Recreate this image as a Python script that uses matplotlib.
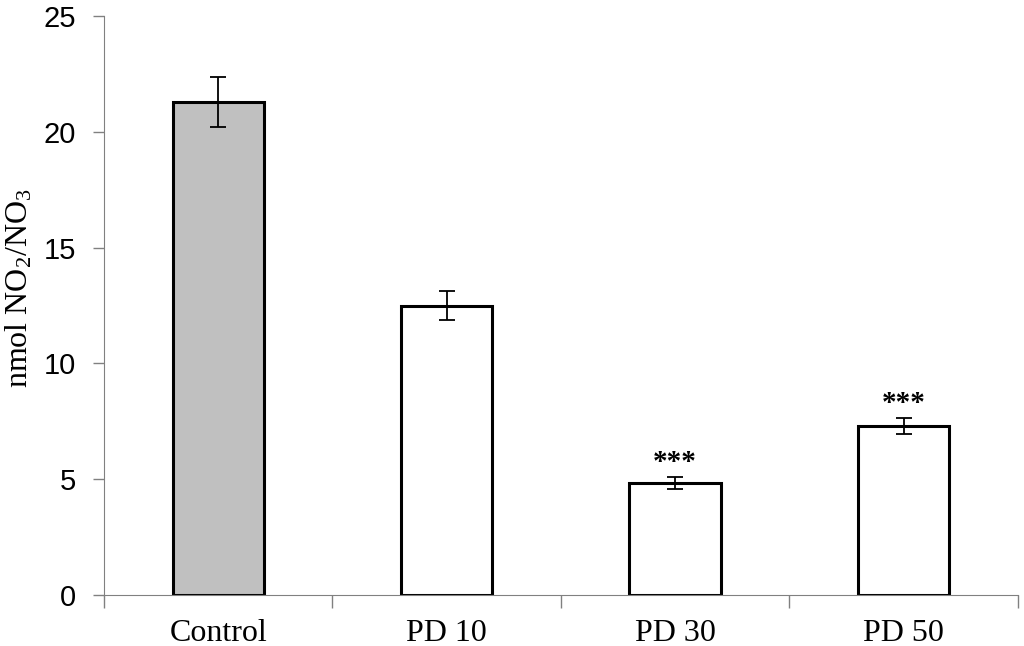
import matplotlib
matplotlib.use("Agg")
import matplotlib.pyplot as plt
import numpy as np

plt.rcParams["mathtext.fontset"] = "custom"
plt.rcParams["mathtext.rm"] = "Liberation Serif"
plt.rcParams["mathtext.it"] = "Liberation Serif:italic"

# values
groups = ["Control", "PD 10", "PD 30", "PD 50"]
means = [21.3, 12.5, 4.83, 7.3]
errors = [1.08, 0.62, 0.27, 0.35]
stars = ["", "", "***", "***"]
fills = ["#c0c0c0", "white", "white", "white"]

fig = plt.figure(figsize=(10.24, 6.46), dpi=100)
ax = fig.add_axes([0.1016, 0.079, 0.8924, 0.896])

x = np.arange(len(groups))
ax.bar(x, means, width=0.4, color=fills, edgecolor="black", linewidth=2.2, zorder=2)
ax.errorbar(x, means, yerr=errors, fmt="none", ecolor="black",
            elinewidth=1.3, capsize=6, capthick=1.3, zorder=3)

for xi, m, e, s in zip(x, means, errors, stars):
    if s:
        ax.text(xi, m + e + 0.05, s, ha="center", va="bottom",
                fontsize=21, fontweight="bold", family="Liberation Serif")

ax.set_xlim(-0.5, 3.5)
ax.set_ylim(0, 25)
ax.set_yticks([0, 5, 10, 15, 20, 25])

# category labels centred, ticks at the boundaries
ax.set_xticks(x)
ax.set_xticklabels(groups, family="Liberation Serif", fontsize=23)
ax.tick_params(axis="x", length=0, pad=17)
ax.set_xticks(np.arange(-0.5, 4.0, 1.0), minor=True)
ax.tick_params(axis="x", which="minor", length=9, width=1, color="#808080", direction="out")

ax.tick_params(axis="y", length=8, width=1, color="#808080", direction="out", pad=12,
               labelsize=21)
for lab in ax.get_yticklabels():
    lab.set_family("Liberation Sans")

ax.spines["top"].set_visible(False)
ax.spines["right"].set_visible(False)
ax.spines["left"].set_color("#808080")
ax.spines["bottom"].set_color("#808080")

ax.set_ylabel(r"nmol NO$_2$/NO$_3$", family="Liberation Serif", fontsize=23)
ax.yaxis.set_label_coords(-0.076, 0.53)

fig.savefig("out.png", dpi=100)
